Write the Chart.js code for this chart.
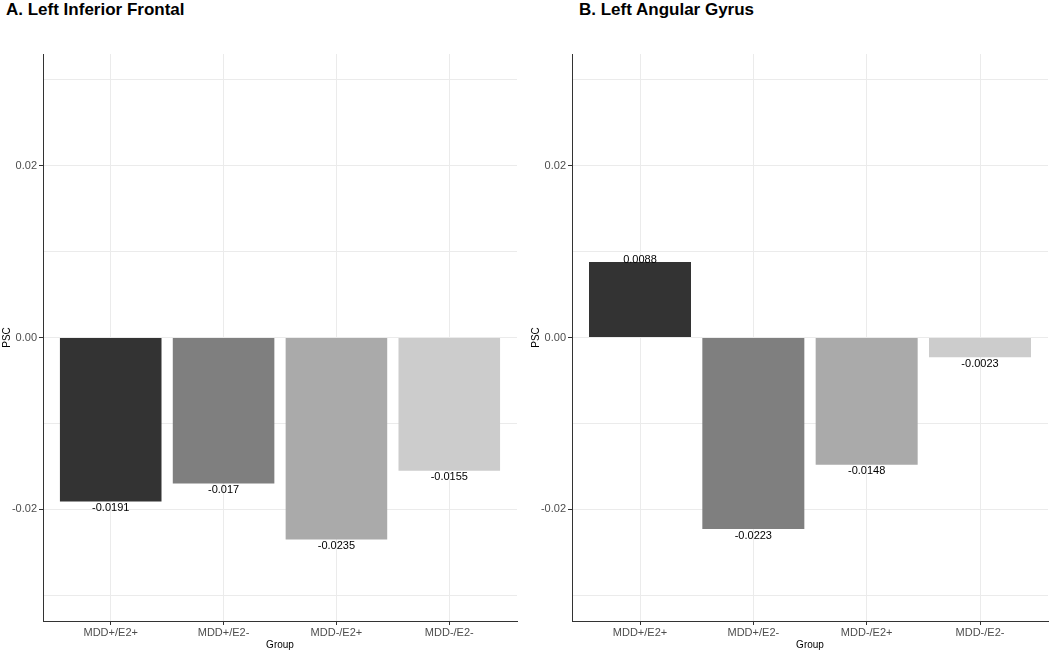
<!DOCTYPE html>
<html>
<head>
<meta charset="utf-8">
<script src="https://cdn.jsdelivr.net/npm/chart.js@4"></script>
<style>
  body { margin: 0; background: #fff; width: 1050px; height: 652px; position: relative; overflow: hidden; }
  .panel-title { position: absolute; top: 0; font: bold 17px "Liberation Sans", Arial, sans-serif; color: #000; line-height: 19px; }
  canvas { position: absolute; top: 0; }
</style>
</head>
<body>
<div class="panel-title" style="left:6px">A. Left Inferior Frontal</div>
<div class="panel-title" style="left:579px">B. Left Angular Gyrus</div>
<canvas id="chartA" width="525" height="652" style="left:0"></canvas>
<canvas id="chartB" width="521" height="652" style="left:529px"></canvas>
<script>
const groups = ['MDD+/E2+', 'MDD+/E2-', 'MDD-/E2+', 'MDD-/E2-'];
const barColours = ['#333333', '#7f7f7f', '#aaaaaa', '#cccccc'];

// percent signal change per group
const frontalValues = [-0.0191, -0.017, -0.0235, -0.0155];
const frontalLabels = ['-0.0191', '-0.017', '-0.0235', '-0.0155'];
const angularValues = [0.0088, -0.0223, -0.0148, -0.0023];
const angularLabels = ['0.0088', '-0.0223', '-0.0148', '-0.0023'];

const yTicks = [-0.03, -0.02, -0.01, 0, 0.01, 0.02, 0.03];
const yMajorTicks = [-0.02, 0, 0.02];
const yMin = -0.033;
const yMax = 0.033;

const fontFamily = '"Liberation Sans", Arial, sans-serif';

function isMajor(v) {
    return yMajorTicks.some(m => Math.abs(m - v) < 1e-9);
}

// draws the value text under (or above) each bar end
const barTextPlugin = {
    id: 'barText',
    afterDatasetsDraw(chart) {
        const ctx = chart.ctx;
        const meta = chart.getDatasetMeta(0);
        const texts = chart.data.datasets[0].valueText;
        ctx.save();
        ctx.font = '11px ' + fontFamily;
        ctx.fillStyle = '#000';
        ctx.textAlign = 'center';
        meta.data.forEach((bar, i) => {
            const v = chart.data.datasets[0].data[i].y;
            if (v < 0) {
                ctx.textBaseline = 'top';
                ctx.fillText(texts[i], bar.x, bar.y + 1);
            } else {
                ctx.textBaseline = 'bottom';
                ctx.fillText(texts[i], bar.x, bar.y + 4);
            }
        });
        ctx.restore();
    }
};

function createPanel(canvasElement, values, labels, padRight) {
    new Chart(canvasElement, {
        type: 'bar',
        data: {
            datasets: [{
                data: values.map((v, i) => ({ x: i + 1, y: v })),
                valueText: labels,
                backgroundColor: barColours,
                borderColor: barColours,
                borderWidth: 0,
                barPercentage: 0.9,
                categoryPercentage: 1
            }]
        },
        options: {
            responsive: false,
            animation: false,
            layout: { padding: { top: 54, right: padRight, left: 0, bottom: 0 } },
            plugins: {
                legend: { display: false },
                tooltip: { enabled: false }
            },
            scales: {
                x: {
                    type: 'linear',
                    min: 0.4,
                    max: 4.6,
                    offset: false,
                    afterBuildTicks: s => { s.ticks = [1, 2, 3, 4].map(v => ({ value: v })); },
                    afterFit: s => { s.height = 31; },
                    grid: { color: '#ebebeb', lineWidth: 1, tickLength: 4, tickColor: '#333', offset: false },
                    border: { display: true, color: '#333', width: 1 },
                    ticks: {
                        autoSkip: false,
                        maxRotation: 0,
                        padding: 1,
                        color: '#4d4d4d',
                        font: { family: fontFamily, size: 11 },
                        callback: v => groups[v - 1]
                    },
                    title: {
                        display: true,
                        text: 'Group',
                        color: '#000',
                        font: { family: fontFamily, size: 10 },
                        padding: { top: 0, bottom: 1 }
                    }
                },
                y: {
                    min: yMin,
                    max: yMax,
                    afterBuildTicks: s => { s.ticks = yTicks.map(v => ({ value: v })); },
                    afterFit: s => { s.width = 43; },
                    grid: {
                        color: '#ebebeb',
                        lineWidth: 1,
                        tickLength: 4,
                        tickColor: c => (c.tick && isMajor(c.tick.value)) ? '#333' : 'rgba(0,0,0,0)'
                    },
                    border: { display: true, color: '#333', width: 1 },
                    ticks: {
                        padding: 2,
                        color: '#4d4d4d',
                        font: { family: fontFamily, size: 11 },
                        callback: v => isMajor(v) ? v.toFixed(2) : ''
                    },
                    title: {
                        display: true,
                        text: 'PSC',
                        color: '#000',
                        font: { family: fontFamily, size: 10 },
                        padding: { top: 1, bottom: 0 }
                    }
                }
            }
        },
        plugins: [barTextPlugin]
    });
}

createPanel(document.getElementById('chartA'), frontalValues, frontalLabels, 8);
createPanel(document.getElementById('chartB'), angularValues, angularLabels, 2);
</script>
</body>
</html>
